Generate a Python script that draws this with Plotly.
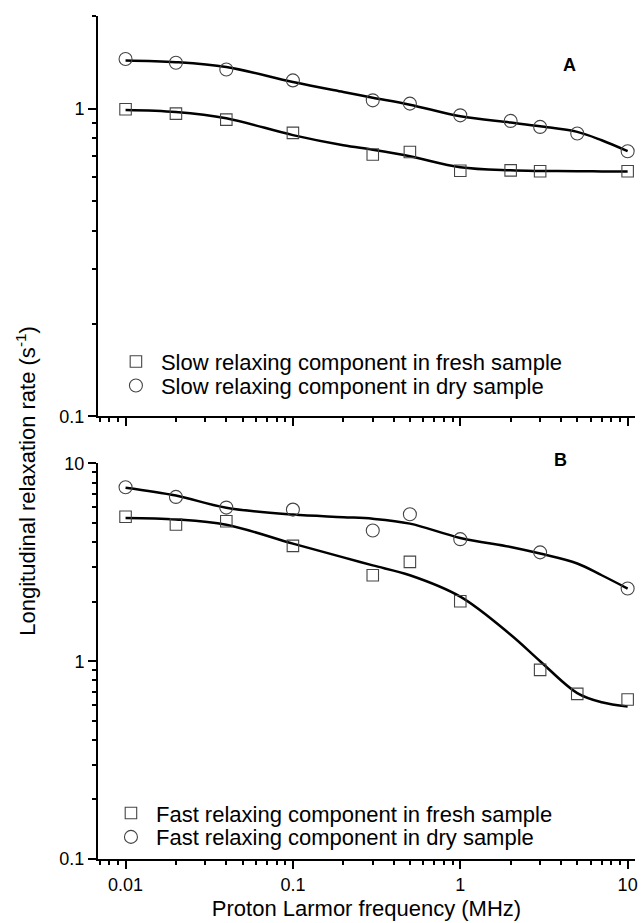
import plotly.graph_objects as go

# ---------------- data ----------------
freq_a_fresh = [0.01, 0.02, 0.04, 0.1, 0.3, 0.5, 1, 2, 3, 10]
rate_a_fresh = [0.995, 0.963, 0.921, 0.834, 0.709, 0.723, 0.628, 0.630, 0.626, 0.626]
freq_a_dry = [0.01, 0.02, 0.04, 0.1, 0.3, 0.5, 1, 2, 3, 5, 10]
rate_a_dry = [1.45, 1.41, 1.34, 1.235, 1.064, 1.038, 0.951, 0.912, 0.872, 0.830, 0.727]

freq_b_fresh = [0.01, 0.02, 0.04, 0.1, 0.3, 0.5, 1, 3, 5, 10]
rate_b_fresh = [5.37, 4.91, 5.10, 3.83, 2.72, 3.18, 2.01, 0.904, 0.684, 0.64]
freq_b_dry = [0.01, 0.02, 0.04, 0.1, 0.3, 0.5, 1, 3, 10]
rate_b_dry = [7.58, 6.77, 5.98, 5.84, 4.58, 5.53, 4.14, 3.55, 2.33]

fit_freq = [0.01, 0.02, 0.04, 0.1, 0.2, 0.3, 0.5, 1, 2, 3, 5, 7, 10]
fit_a_fresh = [0.99, 0.975, 0.93, 0.82, 0.76, 0.735, 0.70, 0.645, 0.63, 0.627, 0.626, 0.625, 0.625]
fit_a_dry = [1.434, 1.416, 1.365, 1.22, 1.132, 1.085, 1.03, 0.944, 0.901, 0.876, 0.84, 0.789, 0.727]
fit_b_fresh = [5.30, 5.21, 4.90, 3.93, 3.35, 3.05, 2.72, 2.12, 1.36, 1.0, 0.69, 0.62, 0.59]
fit_b_dry = [7.54, 6.88, 5.97, 5.51, 5.35, 5.25, 4.96, 4.20, 3.78, 3.50, 3.12, 2.72, 2.33]

x_tick_vals = [0.01, 0.1, 1, 10]
x_tick_text = ["0.01", "0.1", "1", "10"]
ya_tick_vals = [0.1, 1]
ya_tick_text = ["0.1", "1"]
yb_tick_vals = [0.1, 1, 10]
yb_tick_text = ["0.1", "1", "10"]

legend_names = [
    "Slow relaxing component in fresh sample",
    "Slow relaxing component in dry sample",
    "Fast relaxing component in fresh sample",
    "Fast relaxing component in dry sample",
]

# ---------------- layout helpers ----------------
W, H = 644, 923
L, R, T, B = 98, 6, 15, 62
PW = W - L - R
PH = H - T - B


def px_x(x):
    return (x - L) / PW


def px_y(y):
    return (H - B - y) / PH


FONT = "Liberation Sans, Arial, sans-serif"
MARK_COL = "#444444"

fig = go.Figure()


def add_markers(x, y, sym, size, name, xa, ya, leg):
    fig.add_trace(go.Scatter(
        x=x, y=y, mode="markers", name=name, xaxis=xa, yaxis=ya, legend=leg,
        marker=dict(symbol=sym, size=size, color=MARK_COL,
                    line=dict(color=MARK_COL, width=1.1)),
    ))


def add_fit(x, y, xa, ya):
    fig.add_trace(go.Scatter(
        x=x, y=y, mode="lines", xaxis=xa, yaxis=ya, showlegend=False,
        line=dict(color="black", width=2.5, shape="spline", smoothing=1.0),
        hoverinfo="skip",
    ))


add_fit(fit_freq, fit_a_fresh, "x", "y")
add_fit(fit_freq, fit_a_dry, "x", "y")
add_fit(fit_freq, fit_b_fresh, "x2", "y2")
add_fit(fit_freq, fit_b_dry, "x2", "y2")

add_markers(freq_a_fresh, rate_a_fresh, "square-open", 11.5, legend_names[0], "x", "y", "legend")
add_markers(freq_a_dry, rate_a_dry, "circle-open", 13, legend_names[1], "x", "y", "legend2")
add_markers(freq_b_fresh, rate_b_fresh, "square-open", 11.5, legend_names[2], "x2", "y2", "legend3")
add_markers(freq_b_dry, rate_b_dry, "circle-open", 13, legend_names[3], "x2", "y2", "legend4")

x_range = [-2.1646, 1.044]
minor = dict(ticks="outside", ticklen=4, tickwidth=1.5, tickcolor="black", dtick="D1", showgrid=False)

common_x = dict(type="log", range=x_range, showline=True, linecolor="black", linewidth=2,
                ticks="outside", ticklen=8, tickwidth=1.5, tickcolor="black",
                tickmode="array", tickvals=x_tick_vals, ticktext=x_tick_text,
                showgrid=False, zeroline=False, minor=minor,
                tickfont=dict(family=FONT, size=18, color="black"))
common_y = dict(type="log", showline=True, linecolor="black", linewidth=2,
                ticks="outside", ticklen=8, tickwidth=1.5, tickcolor="black",
                tickmode="array", showgrid=False, zeroline=False, minor=minor,
                tickfont=dict(family=FONT, size=18, color="black"))

leg_common = dict(xanchor="left", yanchor="middle", bgcolor="rgba(0,0,0,0)",
                  font=dict(family=FONT, size=22, color="black"), borderwidth=0,
                  itemwidth=40)

fig.update_layout(
    width=W, height=H,
    margin=dict(l=L, r=R, t=T, b=B),
    paper_bgcolor="white", plot_bgcolor="white",
    showlegend=True,
    xaxis=dict(common_x, anchor="y", domain=[0, 1], showticklabels=False),
    yaxis=dict(common_y, anchor="x", domain=[px_y(416.7), 1], range=[-1, 0.30103],
               tickvals=ya_tick_vals, ticktext=ya_tick_text),
    xaxis2=dict(common_x, anchor="y2", domain=[0, 1],
                title=dict(text="Proton Larmor frequency (MHz)",
                           font=dict(family=FONT, size=22, color="black"), standoff=7)),
    yaxis2=dict(common_y, anchor="x2", domain=[0, px_y(464)], range=[-1, 1],
                tickvals=yb_tick_vals, ticktext=yb_tick_text),
    legend=dict(leg_common, x=px_x(111), y=px_y(362)),
    legend2=dict(leg_common, x=px_x(111), y=px_y(386)),
    legend3=dict(leg_common, x=px_x(106), y=px_y(815)),
    legend4=dict(leg_common, x=px_x(106), y=px_y(839)),
    annotations=[
        dict(text="<b>A</b>", x=px_x(572), y=px_y(64), xref="paper", yref="paper",
             xanchor="center", yanchor="middle",
             showarrow=False, font=dict(family=FONT, size=18, color="black")),
        dict(text="<b>B</b>", x=px_x(563), y=px_y(461), xref="paper", yref="paper",
             xanchor="center", yanchor="middle",
             showarrow=False, font=dict(family=FONT, size=18, color="black")),
        dict(text="Longitudinal relaxation rate (s<sup>-1</sup>)", x=px_x(26), y=px_y(481),
             xref="paper", yref="paper", showarrow=False, textangle=-90,
             xanchor="center", yanchor="middle",
             font=dict(family=FONT, size=22, color="black")),
    ],
)

fig.write_html("out.html", config={"displayModeBar": False},
               post_script="document.body.style.margin='0';document.body.style.overflow='hidden';")
